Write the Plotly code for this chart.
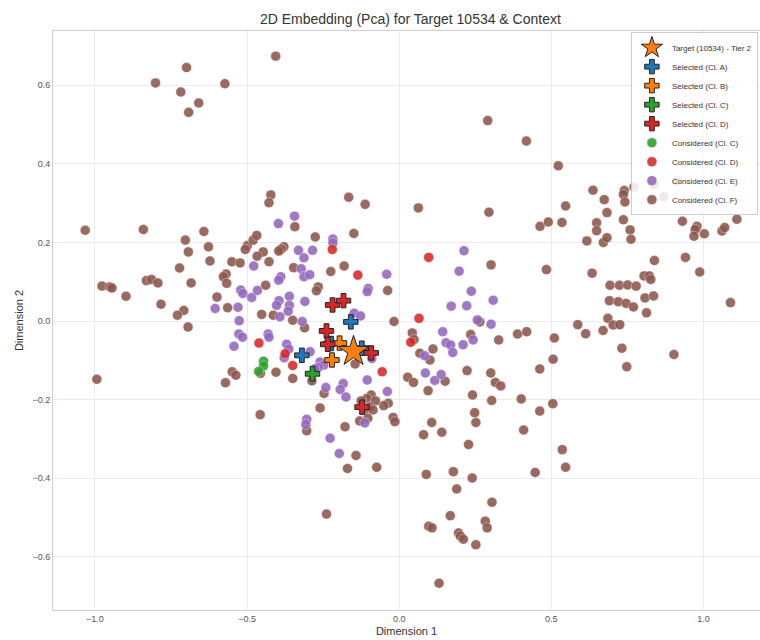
import plotly.graph_objects as go

# ---- data ----
cons_f_x = [-0.699, -0.801, -0.718, -0.573, -0.659, -0.692, -0.406, 0.291, 0.418, 0.523,
            -1.032, -0.841, -0.642, -0.703, -0.627, -0.693, -0.499, -0.506, -0.480, -0.468,
            -0.622, -0.550, -0.523, -0.722, -0.569, -0.578, -0.567, -0.684, -0.831, -0.814,
            -0.793, -0.977, -0.951, -0.944, -0.898, -0.783, -0.599, -0.564, -0.708, -0.729,
            -0.694, -0.422, -0.428, -0.166, -0.112, 0.063, -0.343, -0.149, -0.276, -0.379,
            -0.388, -0.396, -0.447, -0.467, -0.428, -0.347, -0.181, -0.225, -0.439, -0.266,
            -0.272, -0.038, -0.452, -0.414, -0.350, -0.311, -0.017, 0.043, 0.049, 0.068,
            0.101, 0.111, -0.145, -0.549, -0.537, -0.456, -0.405, -0.571, -0.350, -0.287,
            0.028, 0.047, 0.095, -0.247, -0.036, -0.051, -0.092, -0.107, -0.078, -0.125,
            -0.096, -0.112, -0.086, -0.260, -0.457, -0.103, -0.130, -0.178, -0.020, -0.014,
            0.107, -0.994, 0.295, 0.547, 0.463, 0.490, 0.535, 0.302, 0.484, 0.265,
            0.235, 0.327, 0.389, 0.419, 0.510, 0.587, 0.506, 0.462, 0.223, 0.301,
            0.151, 0.316, 0.334, 0.241, 0.304, 0.401, 0.505, 0.462, 0.248, 0.252,
            -0.142, -0.170, -0.074, -0.304, -0.239, 0.080, 0.140, 0.228, 0.089, 0.178,
            0.240, 0.189, 0.305, 0.168, 0.097, 0.108, 0.283, 0.289, 0.195, 0.201,
            0.211, 0.252, 0.131, 0.409, 0.447, 0.637, 0.674, 0.740, 0.737, 0.742,
            0.772, 0.838, 0.870, 0.913, 0.683, 0.649, 0.649, 0.737, 0.759, 0.762,
            0.931, 0.979, 0.973, 0.969, 1.003, 1.061, 1.070, 1.110, 0.617, 0.671,
            0.683, 0.839, 0.941, 0.634, 0.988, 0.805, 0.822, 0.827, 0.693, 0.724,
            0.751, 0.779, 0.691, 0.720, 0.746, 0.770, 0.808, 0.836, 1.089, 0.813,
            0.686, 0.703, 0.725, 0.670, 0.613, 0.732, 0.903, 0.748, 0.536, 0.547]
cons_f_y = [0.645, 0.606, 0.583, 0.604, 0.555, 0.531, 0.674, 0.510, 0.458, 0.395,
            0.231, 0.233, 0.228, 0.206, 0.189, 0.176, 0.192, 0.182, 0.206, 0.218,
            0.153, 0.151, 0.148, 0.135, 0.120, 0.113, 0.096, 0.097, 0.103, 0.106,
            0.097, 0.089, 0.087, 0.084, 0.063, 0.043, 0.061, 0.034, 0.027, 0.015,
            -0.015, 0.321, 0.301, 0.315, 0.297, 0.288, 0.240, 0.223, 0.214, 0.189,
            0.183, 0.178, 0.176, 0.165, 0.151, 0.136, 0.140, 0.126, 0.091, 0.087,
            0.077, 0.078, 0.017, 0.015, 0.002, -0.017, -0.001, -0.030, -0.047, -0.082,
            -0.099, -0.071, -0.109, -0.129, -0.138, -0.133, -0.130, -0.157, -0.146, -0.152,
            -0.143, -0.156, -0.177, -0.184, -0.209, -0.215, -0.188, -0.197, -0.203, -0.203,
            -0.218, -0.226, -0.226, -0.221, -0.238, -0.247, -0.254, -0.269, -0.245, -0.256,
            -0.258, -0.148, 0.277, 0.293, 0.241, 0.252, 0.251, 0.143, 0.131, -0.002,
            -0.034, -0.048, -0.033, -0.027, -0.043, -0.009, -0.097, -0.122, -0.126, -0.132,
            -0.153, -0.156, -0.165, -0.188, -0.202, -0.198, -0.210, -0.229, -0.233, -0.258,
            -0.342, -0.375, -0.372, -0.279, -0.491, -0.289, -0.283, -0.314, -0.390, -0.383,
            -0.399, -0.427, -0.461, -0.495, -0.522, -0.526, -0.509, -0.526, -0.539, -0.547,
            -0.555, -0.569, -0.667, -0.277, -0.385, 0.333, 0.309, 0.332, 0.322, 0.303,
            0.341, 0.348, 0.316, 0.357, 0.276, 0.250, 0.230, 0.258, 0.232, 0.208,
            0.254, 0.241, 0.233, 0.216, 0.222, 0.229, 0.238, 0.259, 0.204, 0.200,
            0.212, 0.154, 0.162, 0.122, 0.125, 0.115, 0.115, 0.106, 0.091, 0.091,
            0.092, 0.089, 0.052, 0.049, 0.045, 0.036, 0.059, 0.064, 0.047, 0.021,
            0.007, -0.010, -0.009, -0.024, -0.032, -0.069, -0.085, -0.116, -0.327, -0.372]

cons_e_x = [-0.521, -0.514, -0.605, -0.530, -0.526, -0.485, -0.527, -0.515, -0.543, -0.431,
            -0.428, -0.370, -0.363, -0.378, -0.344, -0.397, -0.218, -0.218, -0.331, -0.313,
            -0.285, -0.478, -0.322, -0.313, -0.294, -0.389, -0.396, -0.041, -0.102, -0.105,
            -0.466, -0.361, -0.395, -0.403, -0.361, -0.310, -0.365, -0.392, -0.319, -0.148,
            -0.127, -0.293, -0.260, -0.248, -0.266, -0.277, -0.090, -0.105, -0.241, -0.184,
            -0.194, -0.175, -0.039, -0.304, -0.307, 0.086, 0.117, 0.138, 0.213, 0.197,
            0.237, 0.309, 0.171, 0.222, 0.257, 0.302, 0.143, 0.154, 0.169, 0.176,
            0.210, 0.243, 0.084, -0.227, -0.197, -0.113]
cons_e_y = [0.079, 0.070, 0.032, 0.035, 0.001, 0.060, -0.033, -0.041, -0.064, -0.033,
            -0.041, -0.059, -0.071, -0.093, 0.267, 0.248, 0.209, 0.199, 0.180, 0.161,
            0.180, 0.140, 0.133, 0.113, 0.118, 0.113, 0.104, 0.119, 0.083, 0.075,
            0.078, 0.063, 0.052, 0.040, 0.040, 0.050, 0.025, 0.011, -0.001, 0.020,
            0.013, -0.078, -0.104, -0.112, -0.118, -0.121, -0.095, -0.150, -0.169, -0.159,
            -0.174, -0.193, -0.179, -0.250, -0.263, -0.132, -0.151, -0.136, 0.179, 0.127,
            0.076, 0.053, 0.038, 0.039, 0.003, -0.008, -0.027, -0.055, -0.061, -0.080,
            -0.060, -0.048, -0.088, -0.298, -0.337, -0.259]

cons_d_x = [-0.220, -0.136, 0.097, 0.065, 0.038, -0.461, -0.375, -0.350, -0.056]
cons_d_y = [0.182, 0.117, 0.162, 0.007, -0.054, -0.056, -0.083, -0.113, -0.129]

cons_c_x = [-0.446, -0.446, -0.462]
cons_c_y = [-0.102, -0.114, -0.128]

sel_a_x = [-0.159, -0.123, -0.320, -0.224]
sel_a_y = [-0.002, -0.069, -0.087, -0.057]
sel_b_x = [-0.196, -0.221]
sel_b_y = [-0.056, -0.099]
sel_c_x = [-0.285]
sel_c_y = [-0.134]
sel_d_x = [-0.219, -0.183, -0.239, -0.235, -0.092, -0.122]
sel_d_y = [0.041, 0.052, -0.025, -0.059, -0.081, -0.219]

target_x = [-0.150]
target_y = [-0.077]

x_ticks = [-1.0, -0.5, 0.0, 0.5, 1.0]
y_ticks = [-0.6, -0.4, -0.2, 0.0, 0.2, 0.4, 0.6]

# ---- styles ----
C_BLUE, C_ORANGE, C_GREEN, C_RED, C_PURPLE, C_BROWN = (
    "#1f77b4", "#ff7f0e", "#2ca02c", "#d62728", "#9467bd", "#8c564b")

fig = go.Figure()

def considered(xs, ys, color, name, rank):
    fig.add_trace(go.Scatter(
        x=xs, y=ys, mode="markers", name=name, legendrank=rank,
        marker=dict(size=10, color=color, opacity=0.88,
                    line=dict(width=0.6, color="rgba(255,255,255,0.7)"))))

def selected(xs, ys, color, name, rank):
    fig.add_trace(go.Scatter(
        x=xs, y=ys, mode="markers", name=name, legendrank=rank,
        marker=dict(symbol="cross", size=12, color=color,
                    line=dict(width=1, color="#222222"))))

considered(cons_f_x, cons_f_y, C_BROWN, "Considered (Cl. F)", 9)
considered(cons_e_x, cons_e_y, C_PURPLE, "Considered (Cl. E)", 8)
considered(cons_d_x, cons_d_y, C_RED, "Considered (Cl. D)", 7)
considered(cons_c_x, cons_c_y, C_GREEN, "Considered (Cl. C)", 6)
selected(sel_a_x, sel_a_y, C_BLUE, "Selected (Cl. A)", 2)
selected(sel_b_x, sel_b_y, C_ORANGE, "Selected (Cl. B)", 3)
selected(sel_c_x, sel_c_y, C_GREEN, "Selected (Cl. C)", 4)
selected(sel_d_x, sel_d_y, C_RED, "Selected (Cl. D)", 5)
fig.add_trace(go.Scatter(
    x=target_x, y=target_y, mode="markers", name="Target (10534) - Tier 2",
    legendrank=1,
    marker=dict(symbol="star", size=23, color=C_ORANGE,
                line=dict(width=1, color="#222222"))))

FONT = "Liberation Sans, Arial, sans-serif"
axis_common = dict(
    showgrid=True, gridcolor="#ebebeb", gridwidth=0.8, zeroline=False,
    showline=True, linecolor="#cfcfcf", linewidth=1, ticks="",
    tickfont=dict(size=9, color="#555555", family=FONT), tickformat=".1f",
)

fig.update_layout(
    width=760, height=640,
    margin=dict(l=53, r=0, t=31, b=30, autoexpand=False),
    paper_bgcolor="white", plot_bgcolor="white",
    font=dict(family=FONT, color="#333333"),
    title=dict(text="2D Embedding (Pca) for Target 10534 & Context",
               x=0.54, xanchor="center", y=0.970, yanchor="middle",
               font=dict(size=14, color="#333333", family=FONT)),
    xaxis=dict(range=[-1.138, 1.186], tickvals=x_ticks, mirror=True,
               title=dict(text="Dimension 1", standoff=4,
                          font=dict(size=11, color="#333333", family=FONT)),
               **axis_common),
    yaxis=dict(range=[-0.735, 0.738], tickvals=y_ticks,
               title=dict(text="Dimension 2", standoff=6,
                          font=dict(size=11, color="#333333", family=FONT)),
               **axis_common),
    legend=dict(x=0.997, y=0.998, xanchor="right", yanchor="top",
                bgcolor="rgba(255,255,255,0.85)", bordercolor="#cccccc",
                borderwidth=1, font=dict(size=8, color="#333333", family=FONT),
                itemsizing="trace", tracegroupgap=0),
)

fig.write_html("out.html")
